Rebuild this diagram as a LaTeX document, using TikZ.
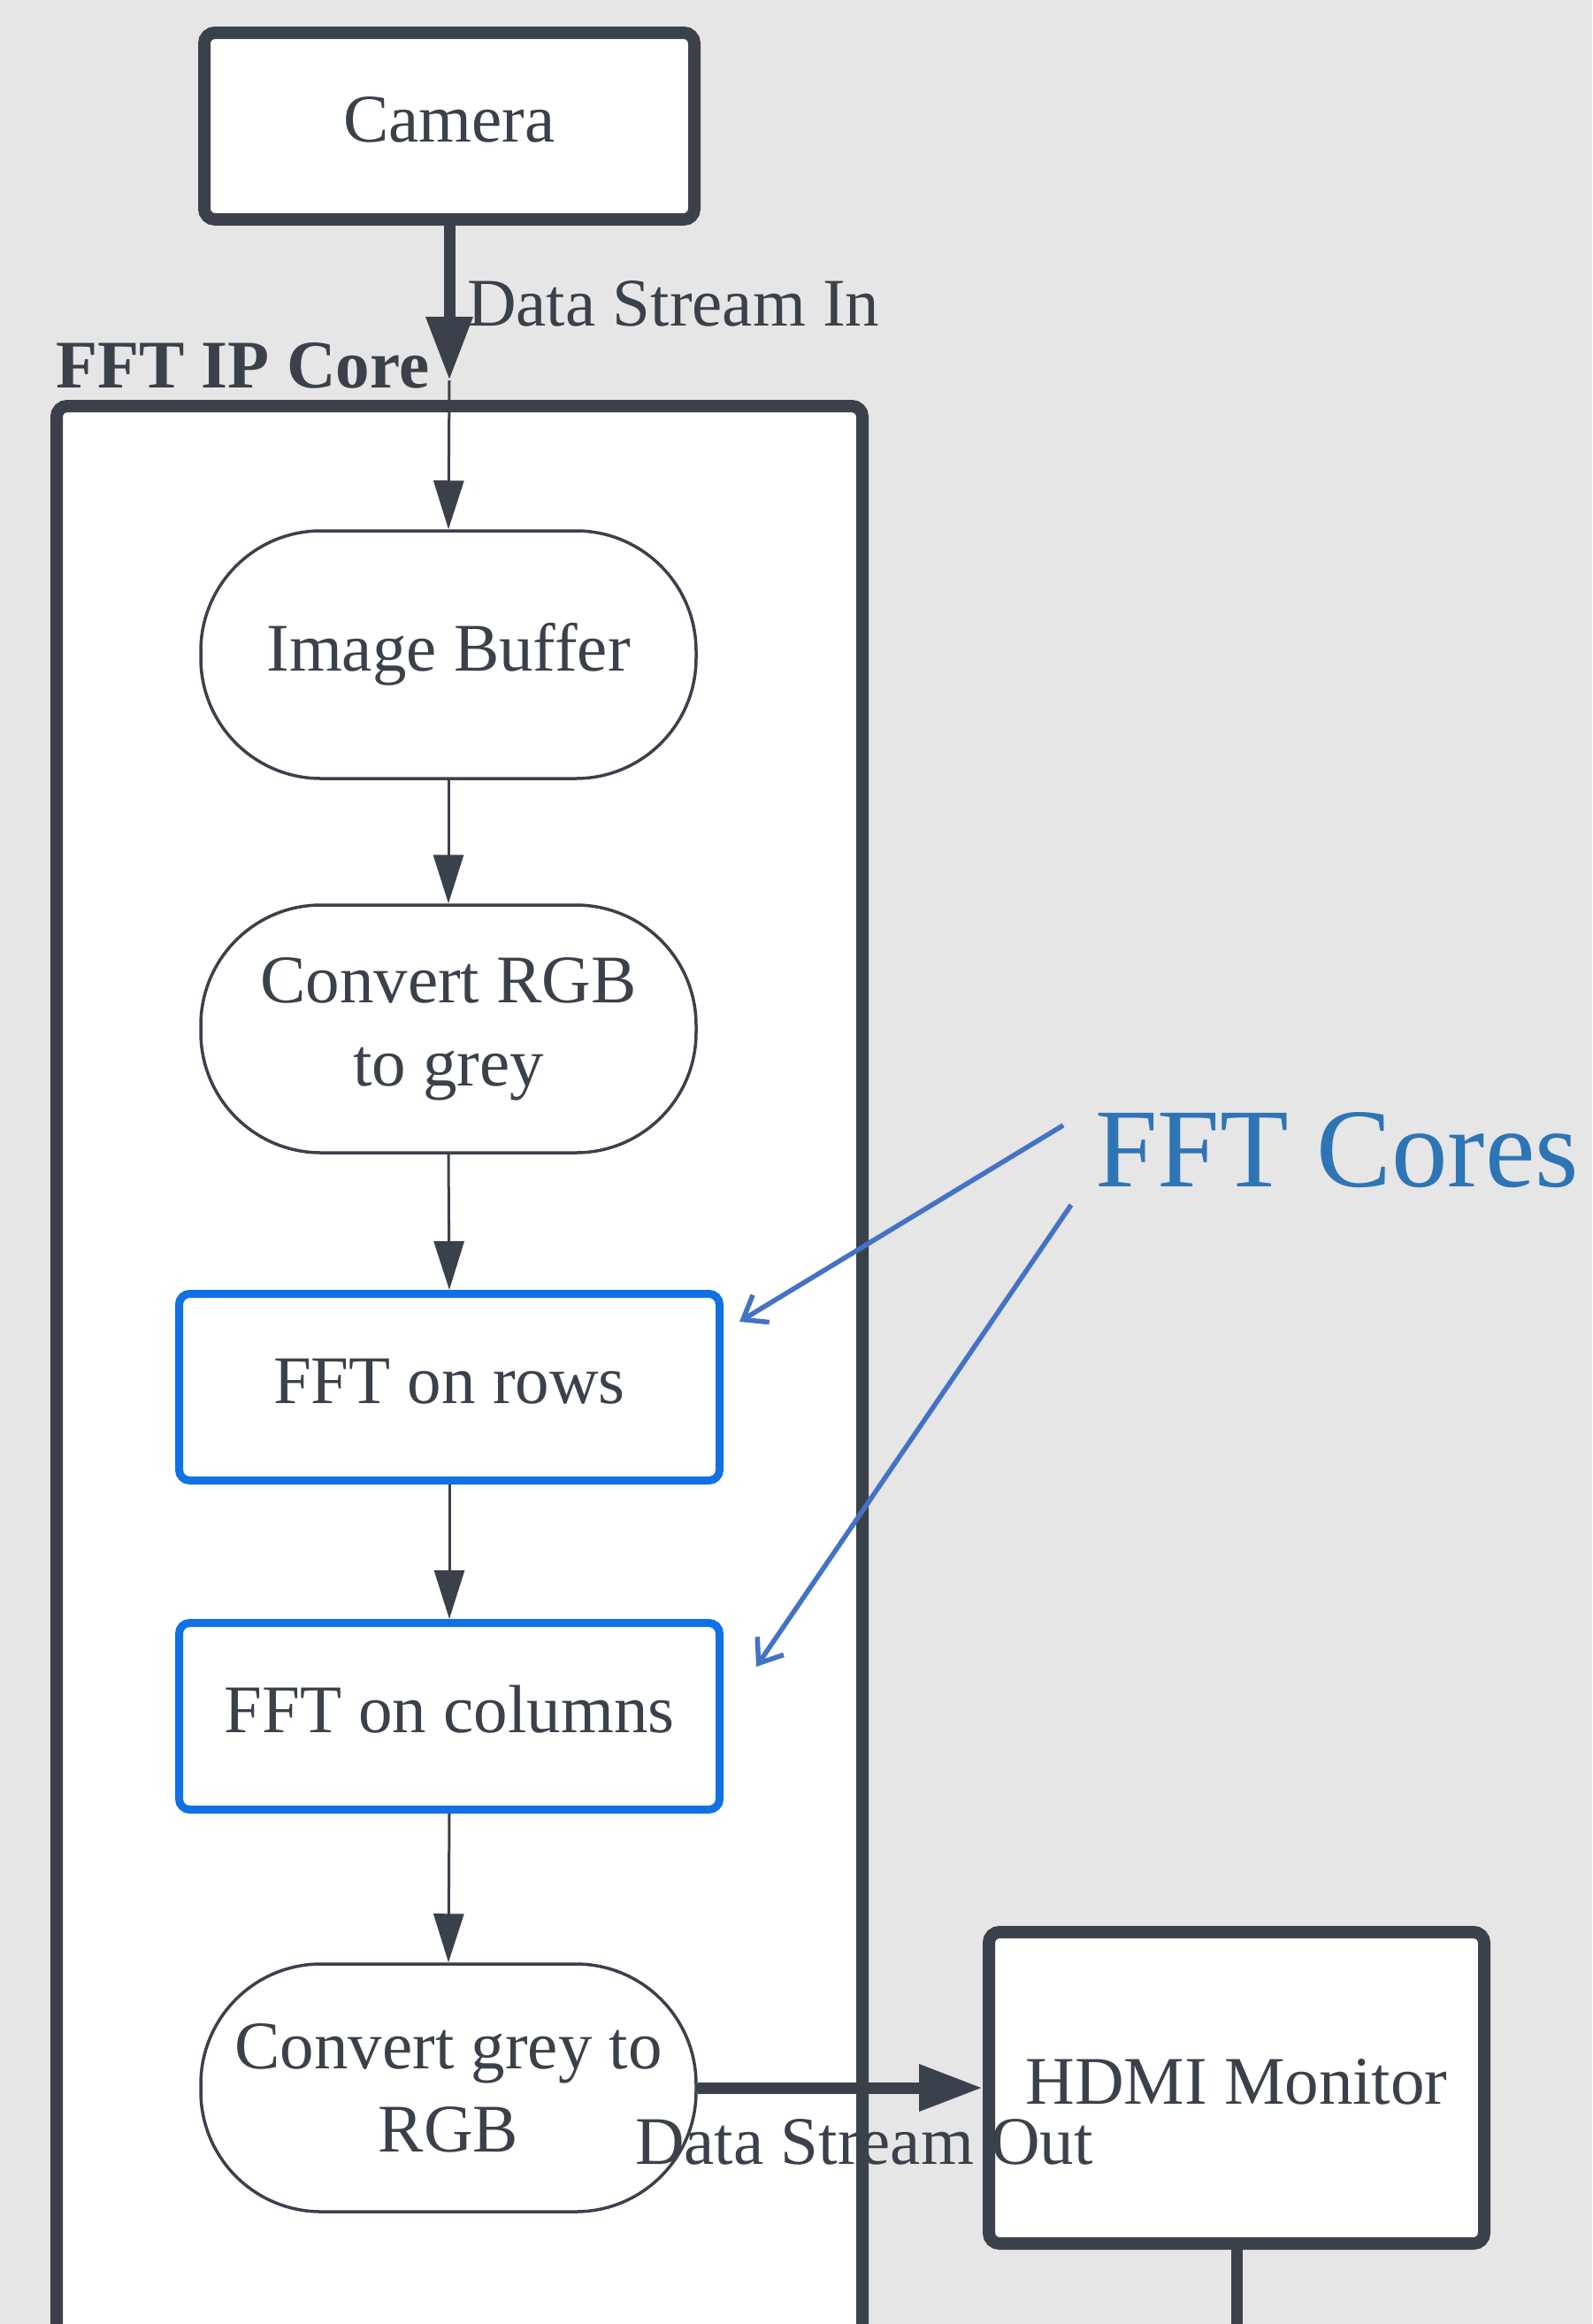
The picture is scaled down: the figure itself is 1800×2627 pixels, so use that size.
\documentclass[tikz,border=0pt]{standalone}
\usepackage{fontspec}
\setmainfont{Liberation Serif}
\usetikzlibrary{arrows.meta}

\definecolor{bggrey}{HTML}{E6E6E6}
\definecolor{ink}{HTML}{3A414A}
\definecolor{fftblue}{HTML}{1071E5}
\definecolor{noteblue}{HTML}{2E75B6}
\definecolor{pointerblue}{HTML}{4472C4}

\begin{document}
\begin{tikzpicture}[x=1pt,y=-1pt,
  lbl/.style={font=\fontsize{77}{94}\selectfont, text=ink, inner sep=0pt},
  oneline/.style={text height=53pt, text depth=17pt},
  device/.style={lbl, oneline, draw=ink, line width=14pt, fill=white,
    rounded corners=12pt},
  process/.style={lbl, align=center, draw=ink, line width=3.5pt, fill=white,
    rounded corners=136pt, minimum width=560pt, minimum height=280pt},
  fftbox/.style={lbl, oneline, draw=fftblue, line width=9pt, fill=white,
    rounded corners=12pt, minimum width=611pt, minimum height=211pt},
  flow/.style={draw=ink, line width=3pt,
    -{Triangle[length=55pt,width=34pt]}},
  stream/.style={draw=ink, line width=13pt,
    -{Triangle[length=72pt,width=50pt]}},
  pointer/.style={draw=pointerblue, line width=5.5pt,
    -{Straight Barb[length=24pt,width=36pt]}},
  caption/.style={lbl, anchor=base west}
]
  % background and page frame
  \fill[bggrey] (0,0) rectangle (1800,2627);
  \clip (0,0) rectangle (1800,2627);

  % FFT IP core container (runs past the bottom edge)
  \draw[ink, line width=14pt, fill=white, rounded corners=12pt]
    (64,459) rectangle (975,2660);
  \node[caption, font=\fontsize{77}{94}\selectfont\bfseries] (corelbl) at (63,438) {FFT IP Core};

  % external devices
  \node[device, minimum width=554pt, minimum height=211pt] (camera) at (508,142.5) {Camera};
  \node[device, minimum width=560pt, minimum height=352pt] (hdmi) at (1398,2360) {HDMI Monitor};

  % processing chain
  \node[process] (imgbuf) at (507,740) {Image Buffer};
  \node[process] (rgbgrey) at (507,1163) {Convert RGB\\to grey};
  \node[fftbox] (fftrows) at (508,1568) {FFT on rows};
  \node[fftbox] (fftcols) at (508,1940) {FFT on columns};
  \node[process] (greyrgb) at (507,2360) {Convert grey to\\RGB};

  % connectors
  \coordinate (inp) at (508,430);
  \coordinate (hdmibelow) at (1398,2660);
  \draw[stream] (camera.south) -- (inp);
  \draw[flow] (inp) -- (imgbuf.north);
  \draw[flow] (imgbuf.south) -- (rgbgrey.north);
  \draw[flow] (rgbgrey.south) -- (fftrows.north);
  \draw[flow] (fftrows.south) -- (fftcols.north);
  \draw[flow] (fftcols.south) -- (greyrgb.north);
  \draw[stream] (greyrgb.east) -- (hdmi.west);
  \draw[ink, line width=13pt] (hdmi.south) -- (hdmibelow);

  \node[caption] (inlbl) at (528,368) {Data Stream In};
  \node[caption] (outlbl) at (718,2446) {Data Stream Out};

  % FFT cores annotation
  \node[caption, font=\fontsize{127}{150}\selectfont, text=noteblue] (coreslbl) at (1238,1341) {FFT Cores};
  \coordinate (p1s) at (1202,1272);
  \coordinate (p1e) at (836,1494);
  \coordinate (p2s) at (1211,1362);
  \coordinate (p2e) at (855,1884);
  \draw[pointer] (p1s) -- (p1e);
  \draw[pointer] (p2s) -- (p2e);
\end{tikzpicture}
\end{document}
